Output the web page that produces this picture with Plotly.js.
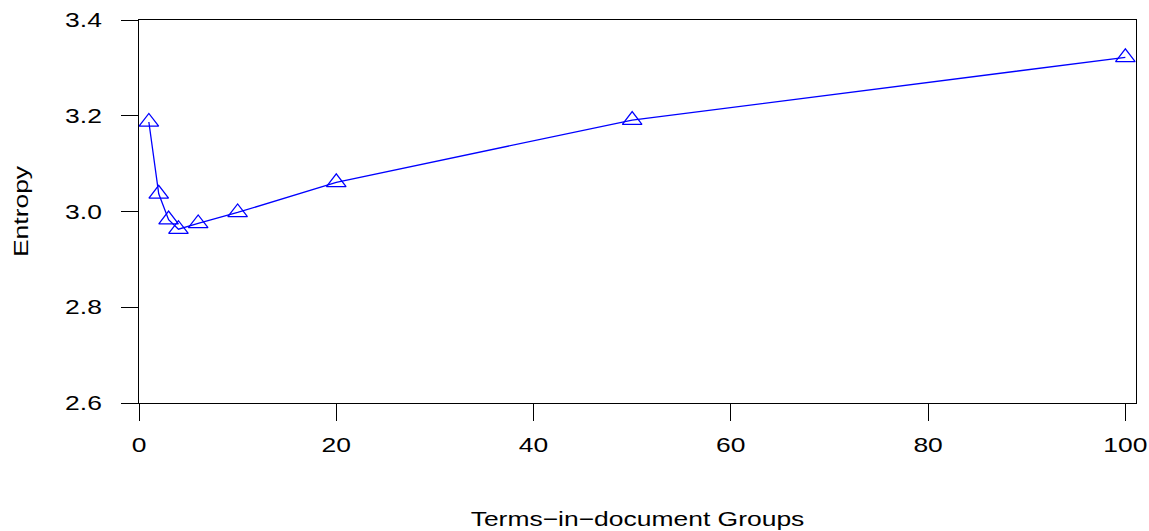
<!DOCTYPE html>
<html>
<head>
<meta charset="utf-8">
<script src="https://cdn.plot.ly/plotly-3.0.1.min.js"></script>
<style>html,body{margin:0;padding:0;background:#fff;}#chart{width:1149px;height:531px;}</style>
</head>
<body>
<div id="chart"></div>
<script>
const groups = [1, 2, 3, 4, 6, 10, 20, 50, 100];
const entropy = [3.187, 3.037, 2.983, 2.963, 2.975, 2.998, 3.061, 3.191, 3.322];
const xTicks = [0, 20, 40, 60, 80, 100];
const yTicks = [2.6, 2.8, 3.0, 3.2, 3.4];
const yTickText = ['2.6', '2.8', '3.0', '3.2', '3.4'];
const xTitle = 'Terms\u2212in\u2212document Groups';
const yTitle = 'Entropy';

const font = {family: 'Liberation Sans, Arial, sans-serif', size: 20.5, color: '#000'};

const trace = {
  x: groups,
  y: entropy,
  type: 'scatter',
  mode: 'lines+markers',
  line: {color: '#0000FF', width: 1.3},
  marker: {symbol: 'triangle-up-open', size: 17, color: '#0000FF', line: {color: '#0000FF', width: 1.3}},
  hoverinfo: 'x+y',
  cliponaxis: false
};

const layout = {
  width: 1149,
  height: 531,
  margin: {l: 139, r: 13, t: 20, b: 128},
  paper_bgcolor: '#fff',
  plot_bgcolor: '#fff',
  font: font,
  showlegend: false,
  xaxis: {
    range: [0, 101.08],
    tickvals: xTicks,
    ticktext: xTicks.map(String),
    ticks: 'outside',
    ticklen: 17,
    tickwidth: 1,
    tickcolor: '#000',
    showline: true,
    linecolor: '#000',
    linewidth: 1,
    mirror: true,
    showgrid: false,
    zeroline: false,
    tickfont: font,
    ticklabelstandoff: 6,
    title: {text: xTitle, font: font, standoff: 57}
  },
  yaxis: {
    range: [2.6, 3.4],
    tickvals: yTicks,
    ticktext: yTickText,
    ticks: 'outside',
    ticklen: 17,
    tickwidth: 1,
    tickcolor: '#000',
    showline: true,
    linecolor: '#000',
    linewidth: 1,
    mirror: true,
    showgrid: false,
    zeroline: false,
    tickfont: font,
    ticklabelstandoff: 15,
    title: {text: yTitle, font: font, standoff: 39}
  }
};

// The reference text is drawn with glyphs about 1.29x wider than Liberation Sans.
const TEXT_STRETCH = 1.29;

Plotly.newPlot('chart', [trace], layout, {displayModeBar: false, staticPlot: true}).then(function () {
  document.querySelectorAll('#chart svg text').forEach(function (t) {
    const len = t.getComputedTextLength();
    if (len > 0) {
      t.setAttribute('textLength', (len * TEXT_STRETCH).toFixed(2));
      t.setAttribute('lengthAdjust', 'spacingAndGlyphs');
    }
  });
});
</script>
</body>
</html>
